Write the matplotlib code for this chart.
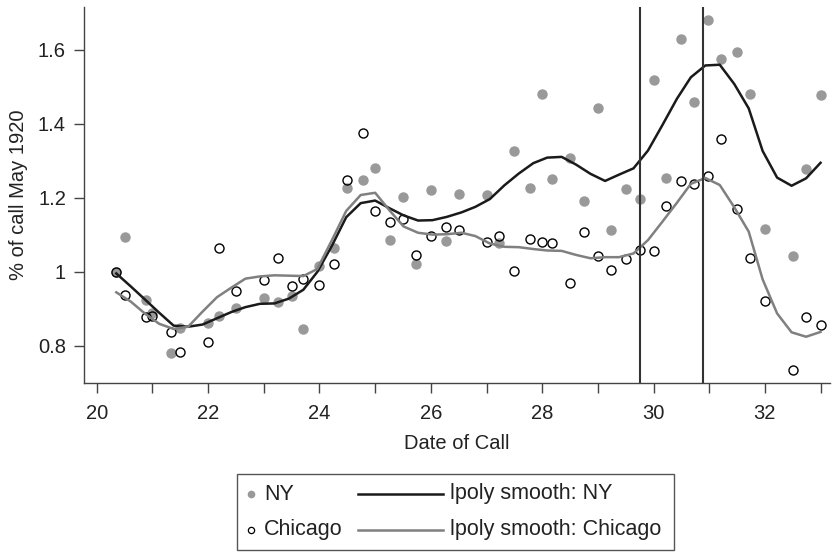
import matplotlib
matplotlib.use("Agg")
import matplotlib.pyplot as plt
from matplotlib.lines import Line2D
from matplotlib.patches import Rectangle

plt.rcParams['font.family'] = ['Liberation Sans', 'DejaVu Sans']

# dates of call (scatter points, shared by both cities)
dates = [20.35, 20.5, 20.88, 21.0, 21.33, 21.5, 22.0, 22.19, 22.5, 23.0,
         23.26, 23.5, 23.71, 24.0, 24.26, 24.5, 24.78, 25.0, 25.27, 25.5,
         25.74, 26.0, 26.28, 26.5, 27.0, 27.22, 27.49, 27.78, 28.0, 28.17,
         28.5, 28.75, 29.0, 29.23, 29.5, 29.76, 30.0, 30.23, 30.5, 30.72,
         30.98, 31.22, 31.5, 31.74, 32.0, 32.5, 32.74, 33.0]

ny = [1.0, 1.095, 0.925, 0.89, 0.78, 0.848, 0.861, 0.882, 0.903, 0.93,
      0.919, 0.935, 0.846, 1.017, 1.064, 1.227, 1.248, 1.282, 1.086, 1.202,
      1.022, 1.221, 1.083, 1.21, 1.207, 1.079, 1.328, 1.226, 1.482, 1.25,
      1.307, 1.191, 1.442, 1.114, 1.225, 1.197, 1.52, 1.253, 1.629, 1.458,
      1.681, 1.576, 1.594, 1.482, 1.115, 1.043, 1.278, 1.478]

chicago = [1.0, 0.938, 0.877, 0.881, 0.839, 0.783, 0.811, 1.066, 0.948, 0.978,
           1.037, 0.963, 0.981, 0.965, 1.021, 1.248, 1.376, 1.164, 1.135, 1.144,
           1.046, 1.097, 1.121, 1.113, 1.080, 1.098, 1.003, 1.088, 1.080, 1.077,
           0.969, 1.107, 1.043, 1.005, 1.034, 1.06, 1.058, 1.178, 1.247, 1.238,
           1.258, 1.358, 1.169, 1.038, 0.922, 0.736, 0.878, 0.857]

# lpoly grid and smoothed values
grid = [20.35, 20.61, 20.87, 21.12, 21.38, 21.64, 21.90, 22.16, 22.42, 22.67,
        22.93, 23.19, 23.45, 23.71, 23.96, 24.22, 24.48, 24.74, 25.00, 25.26,
        25.51, 25.77, 26.03, 26.29, 26.55, 26.80, 27.06, 27.32, 27.58, 27.84,
        28.09, 28.35, 28.61, 28.87, 29.13, 29.38, 29.64, 29.90, 30.16, 30.42,
        30.67, 30.93, 31.19, 31.45, 31.71, 31.96, 32.22, 32.48, 32.74, 33.00]

ny_smooth = [0.996, 0.961, 0.925, 0.89, 0.855, 0.852, 0.858, 0.875, 0.892, 0.905,
             0.914, 0.915, 0.928, 0.952, 1.0, 1.07, 1.148, 1.186, 1.193, 1.172,
             1.153, 1.139, 1.14, 1.149, 1.161, 1.176, 1.197, 1.234, 1.266, 1.294,
             1.309, 1.311, 1.29, 1.265, 1.246, 1.263, 1.28, 1.328, 1.397, 1.468,
             1.526, 1.558, 1.56, 1.508, 1.442, 1.327, 1.255, 1.233, 1.253, 1.295]

chicago_smooth = [0.945, 0.92, 0.887, 0.86, 0.846, 0.852, 0.893, 0.932, 0.958, 0.982,
                  0.988, 0.991, 0.99, 0.989, 1.008, 1.085, 1.165, 1.208, 1.214, 1.166,
                  1.123, 1.106, 1.101, 1.102, 1.106, 1.097, 1.077, 1.068, 1.067, 1.062,
                  1.058, 1.057, 1.046, 1.037, 1.04, 1.04, 1.05, 1.086, 1.136, 1.187,
                  1.238, 1.254, 1.235, 1.175, 1.109, 0.98, 0.888, 0.837, 0.825, 0.838]

event_dates = [29.76, 30.88]

yticks = [0.8, 1.0, 1.2, 1.4, 1.6]
ytick_labels = ['0.8', '1', '1.2', '1.4', '1.6']
xticks = list(range(20, 34))
xtick_labels = [str(t) if t % 2 == 0 else '' for t in xticks]

W, H = 833, 552
fig = plt.figure(figsize=(W / 100, H / 100), dpi=100)
ax = fig.add_axes([84 / W, 1 - 383 / H, (830 - 84) / W, (383 - 7) / H])

gray_pt = '#999999'
axis_col = '#444444'
txt_col = '#222222'
fs = 14.5

ax.plot(dates, ny, 'o', ms=6.5, color=gray_pt, mec=gray_pt, zorder=2)
ax.plot(dates, chicago, 'o', ms=6.5, mfc='none', mec='black', mew=1.0, zorder=3)
ax.plot(grid, ny_smooth, color='#1a1a1a', lw=1.8, zorder=4)
ax.plot(grid, chicago_smooth, color='#808080', lw=1.8, zorder=4)
for d in event_dates:
    ax.axvline(d, color='#333333', lw=1.5, zorder=5)

ax.set_xlim(19.77, 33.17)
ax.set_ylim(0.70, 1.716)
ax.set_xticks(xticks)
ax.set_xticklabels(xtick_labels)
ax.set_yticks(yticks)
ax.set_yticklabels(ytick_labels)
ax.tick_params(axis='both', length=7, width=1, color=axis_col, labelsize=fs,
               labelcolor=txt_col)
ax.tick_params(axis='x', pad=8)
ax.tick_params(axis='y', pad=6)
for s in ['top', 'right']:
    ax.spines[s].set_visible(False)
for s in ['left', 'bottom']:
    ax.spines[s].set_color(axis_col)
    ax.spines[s].set_linewidth(1.0)

ax.set_xlabel('Date of Call', fontsize=fs, color=txt_col, labelpad=8)
ax.set_ylabel('% of call May 1920', fontsize=fs, color=txt_col, labelpad=7)

# legend drawn by hand in pixel positions
def fx(x):
    return x / W

def fy(y):
    return 1 - y / H

fig.add_artist(Rectangle((fx(237), fy(550)), fx(674) - fx(237), fy(474) - fy(550),
                         transform=fig.transFigure, fill=False,
                         edgecolor='#555555', lw=1.0))
row_y = [494, 530]
fig.add_artist(Line2D([fx(251)], [fy(row_y[0])], marker='o', ms=4.5, color=gray_pt,
                      transform=fig.transFigure))
fig.add_artist(Line2D([fx(251)], [fy(row_y[1])], marker='o', ms=4.5, mfc='none',
                      mec='black', mew=0.9, transform=fig.transFigure))
fig.text(fx(264), fy(row_y[0]), 'NY', fontsize=15.5, va='center', color=txt_col)
fig.text(fx(264), fy(row_y[1]), 'Chicago', fontsize=15.5, va='center', color=txt_col)
fig.add_artist(Line2D([fx(358), fx(443)], [fy(row_y[0])] * 2, color='#1a1a1a', lw=1.8,
                      transform=fig.transFigure))
fig.add_artist(Line2D([fx(358), fx(443)], [fy(row_y[1])] * 2, color='#808080', lw=1.8,
                      transform=fig.transFigure))
fig.text(fx(450), fy(row_y[0]), 'lpoly smooth: NY', fontsize=15.5, va='center', color=txt_col)
fig.text(fx(450), fy(row_y[1]), 'lpoly smooth: Chicago', fontsize=15.5, va='center', color=txt_col)

fig.savefig('out.png', dpi=100, facecolor='white')
